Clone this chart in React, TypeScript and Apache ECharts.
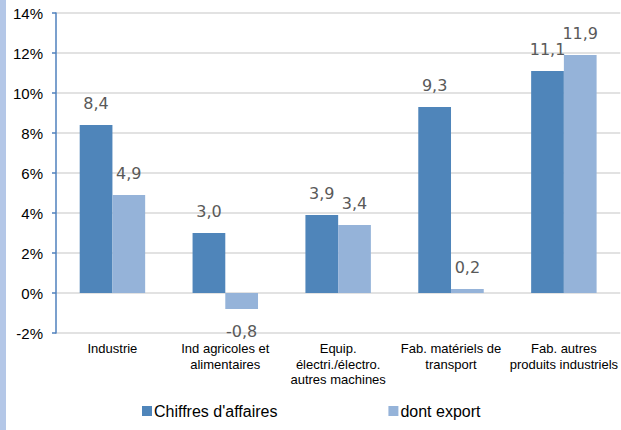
import React, { useEffect, useRef } from "react";
import * as echarts from "echarts";

const categories = [
  "Industrie",
  "Ind agricoles et\nalimentaires",
  "Equip.\nélectri./électro.\nautres machines",
  "Fab. matériels de\ntransport",
  "Fab. autres\nproduits industriels",
];
const chiffresAffaires = [8.4, 3.0, 3.9, 9.3, 11.1];
const dontExport = [4.9, -0.8, 3.4, 0.2, 11.9];
const seriesNames = ["Chiffres d'affaires", "dont export"];

const fmt = (v: number) => v.toFixed(1).replace(".", ",");

export default function App() {
  const ref = useRef<HTMLDivElement>(null);
  useEffect(() => {
    document.body.style.margin = "0";
    const chart = echarts.init(ref.current!, null, { renderer: "svg" });
    const label = {
      show: true,
      position: "top" as const,
      distance: 14,
      fontFamily: "DejaVu Sans",
      fontSize: 16,
      color: "#595959",
      formatter: (p: any) => fmt(p.value),
    };
    chart.setOption({
      animation: false,
      backgroundColor: "#ffffff",
      graphic: [
        {
          type: "rect",
          shape: { x: 0, y: 0, width: 6, height: 430 },
          style: { fill: "#b4c7e7" },
          z: 100,
        },
      ],
      legend: {
        left: 142,
        top: 403,
        padding: 0,
        itemWidth: 10,
        itemHeight: 10,
        itemGap: 111,
        icon: "rect",
        textStyle: {
          fontFamily: "Liberation Sans, Arial",
          fontSize: 16,
          color: "#000",
          padding: [0, 0, 0, -3],
        },
        data: seriesNames,
      },
      grid: { left: 56, right: 0, top: 13, bottom: 97, containLabel: false },
      xAxis: {
        type: "category",
        data: categories,
        position: "bottom",
        axisLine: { show: false, onZero: false },
        axisTick: { show: false },
        axisLabel: {
          interval: 0,
          margin: 8,
          fontFamily: "Liberation Sans, Arial",
          fontSize: 13,
          lineHeight: 15.5,
          color: "#000",
        },
      },
      yAxis: {
        type: "value",
        min: -2,
        max: 14,
        interval: 2,
        axisLine: { show: true, lineStyle: { color: "#4f81bd", width: 1.5 } },
        axisTick: { show: true, length: 4, lineStyle: { color: "#4f81bd", width: 1.5 } },
        axisLabel: {
          formatter: "{value}%",
          margin: 13,
          fontFamily: "Liberation Sans, Arial",
          fontSize: 15,
          color: "#000",
        },
        splitLine: { show: true, lineStyle: { color: "#d9d9d9", width: 1.5 } },
      },
      series: [
        {
          name: seriesNames[0],
          type: "bar",
          data: chiffresAffaires,
          barGap: "0%",
          barCategoryGap: "42%",
          itemStyle: { color: "#4f85ba" },
          label,
        },
        {
          name: seriesNames[1],
          type: "bar",
          data: dontExport.map((v) =>
            v < 0 ? { value: v, label: { position: "bottom" } } : v
          ),
          itemStyle: { color: "#95b3d9" },
          label,
        },
      ],
    });
    return () => chart.dispose();
  }, []);
  return <div ref={ref} style={{ width: 621, height: 430 }} />;
}
